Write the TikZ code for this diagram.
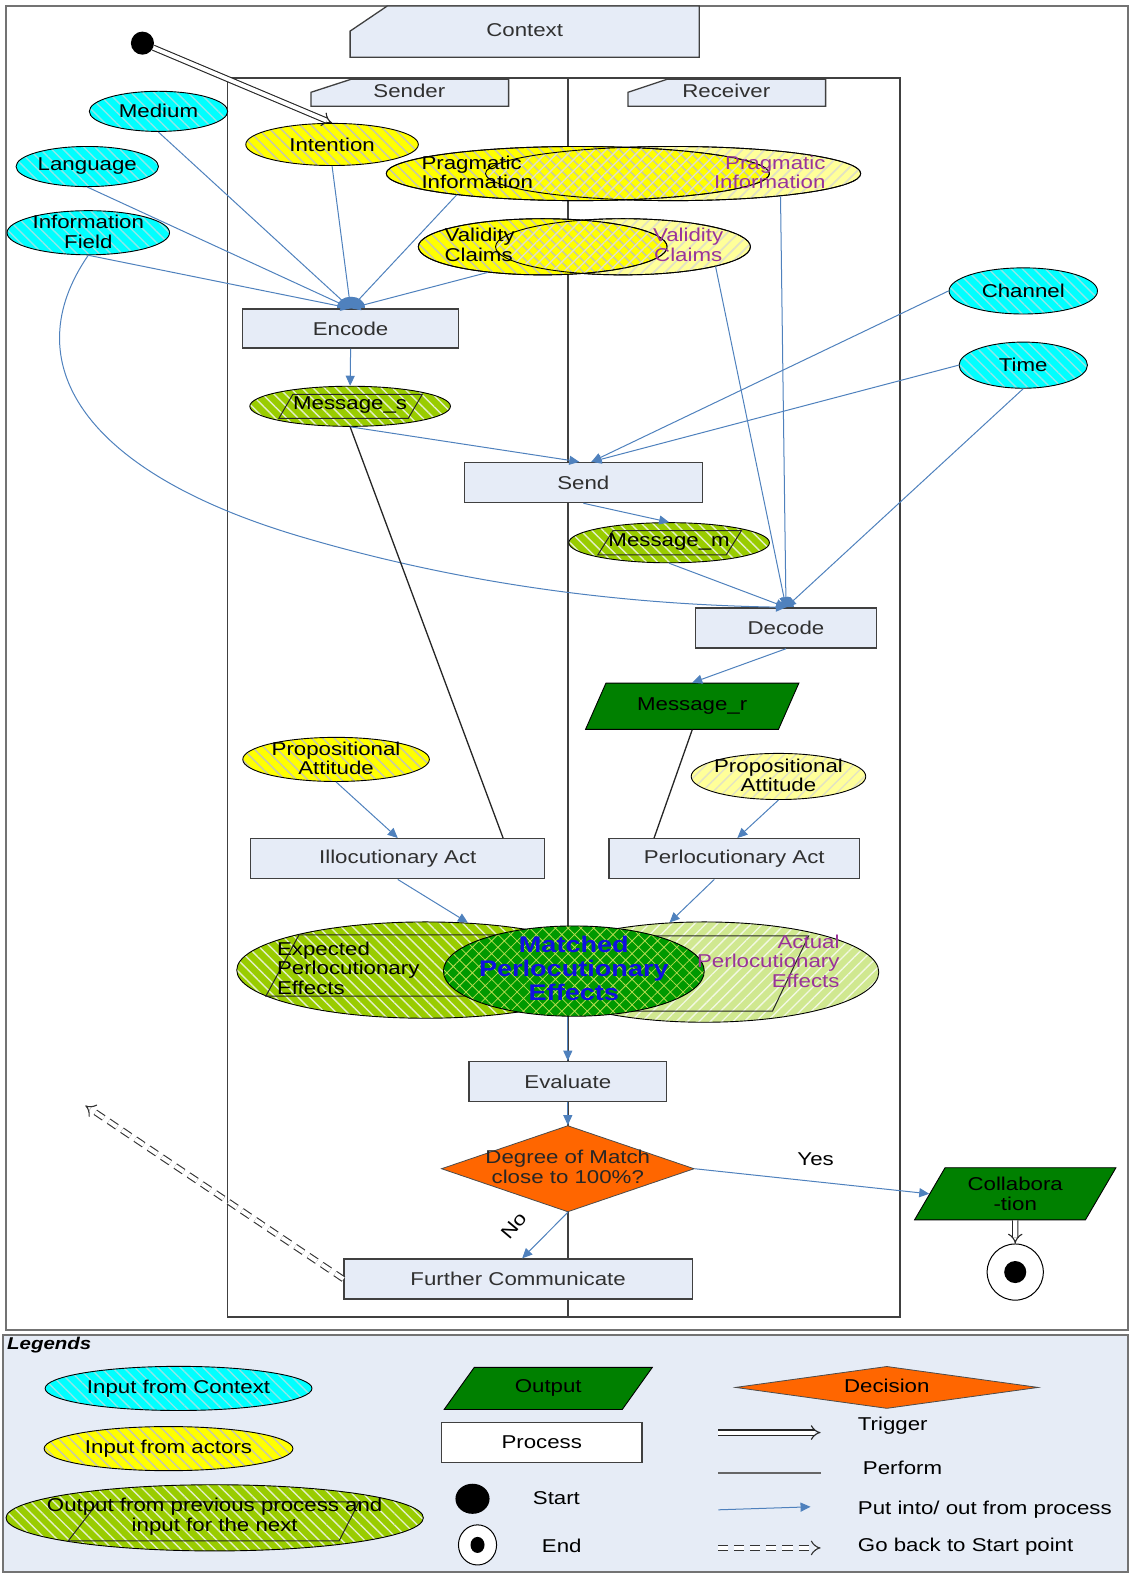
\documentclass[tikz,border=0pt]{standalone}
\usepackage{fontspec}
\setmainfont{Liberation Sans}[FakeStretch=1.2]
\usetikzlibrary{shapes.geometric,patterns.meta,arrows.meta,calc}
\definecolor{procfill}{HTML}{E6ECF7}
\definecolor{legbg}{HTML}{E6ECF6}
\definecolor{boxline}{HTML}{404040}
\definecolor{txtgray}{HTML}{303030}
\definecolor{cyanA}{HTML}{00FFFF}
\definecolor{cyanH}{HTML}{8CE8E8}
\definecolor{yelA}{HTML}{FFFF00}
\definecolor{yelH}{HTML}{C8C8A8}
\definecolor{yelL}{HTML}{FFFF99}
\definecolor{yelLH}{HTML}{E2E2C4}
\definecolor{grnA}{HTML}{99CC00}
\definecolor{grnH}{HTML}{E4F0C8}
\definecolor{grnL}{HTML}{D0E890}
\definecolor{grnLH}{HTML}{F2F8E2}
\definecolor{mgreen}{HTML}{009900}
\definecolor{mgH}{HTML}{B8DC50}
\definecolor{dgreen}{HTML}{008000}
\definecolor{orangeD}{HTML}{FF6600}
\definecolor{arrowblue}{HTML}{4F81BD}
\definecolor{purp}{HTML}{993399}
\definecolor{mblue}{HTML}{1010E0}
\newcommand\dfont{\fontsize{18.5}{19.5}\selectfont}
\newcommand\bfontm{\fontsize{22.5}{24}\selectfont\bfseries}
\tikzset{
  sz/.style 2 args={minimum width=#1,minimum height=#2},
  base/.style={inner sep=0pt,font=\dfont,align=center},
  proc/.style={base,rectangle,draw=boxline,line width=1.3pt,fill=procfill,text=txtgray},
  hatchB/.style={pattern={Lines[angle=-45,distance=8pt,line width=1.4pt]}},
  hatchF/.style={pattern={Lines[angle=45,distance=8pt,line width=1.4pt]}},
  ell/.style={base,ellipse,draw=black,line width=0.9pt},
  ctx/.style={ell,preaction={fill=cyanA},hatchB,pattern color=cyanH},
  actS/.style={ell,preaction={fill=yelA},hatchB,pattern color=yelH},
  actR/.style={ell,preaction={fill=yelL},hatchF,pattern color=yelLH},
  io/.style={ell,preaction={fill=grnA},hatchB,pattern color=grnH},
  outp/.style={base,trapezium,trapezium stretches=true,draw=black,line width=0.9pt,fill=dgreen,text=black},
  decision/.style={diamond,draw=black!70,line width=0.8pt,fill=orangeD,inner sep=0pt},
  para/.style={draw=black!85,line width=1pt},
  flow/.style={draw=arrowblue,line width=1pt,-{Triangle[length=10pt,width=9pt]}},
  perform/.style={draw=black!85,line width=1.3pt},
  trig/.style={draw=black!85,line width=1.1pt,double=white,double distance=4pt,-{Implies[scale=1.3]}},
  goback/.style={draw=black!80,line width=1.1pt,double=white,double distance=4pt,dash pattern=on 10pt off 6pt,-{Implies[scale=1.3]}},
  frame/.style={draw=black!55,line width=2pt},
  lane/.style={draw=black!75,line width=1.5pt},
  tab/.style={draw=black!75,line width=1.3pt,fill=procfill}
}
\begin{document}
\begin{tikzpicture}[x=1pt,y=-1pt]
\useasboundingbox (0,0) rectangle (1125,1568);
% frames
\draw[frame] (6,6) rectangle (1124,1326);
\draw[frame,fill=legbg] (3,1331) rectangle (1124,1567);
\draw[lane] (227,78) rectangle (897,1313);
\draw[lane] (566,78) -- (566,1313);
% tabs
\draw[tab] (349,57) -- (349,31) -- (386,6) -- (697,6) -- (697,57) -- cycle;
\node[base,text=txtgray] (ctxlabel) at (523,30) {Context};
\draw[tab] (310,106) -- (310,92) -- (350,79) -- (507,79) -- (507,106) -- cycle;
\node[base,text=txtgray] (senderlabel) at (408,91) {Sender};
\draw[tab] (626,106) -- (626,92) -- (665,79) -- (823,79) -- (823,106) -- cycle;
\node[base,text=txtgray] (receiverlabel) at (724,91) {Receiver};
% context inputs
\node[ctx,sz={138}{40}] (medium) at (158,111) {Medium};
\node[ctx,sz={142}{40}] (language) at (87,166) {Language};
\node[ctx,sz={162}{44}] (infofield) at (88,232) {};
\node[base] (infofieldtext) at (88,231) {Information\\Field};
\node[ctx,sz={148}{46}] (channel) at (1020,290) {Channel};
\node[ctx,sz={128}{46}] (time) at (1020,364) {Time};
% start
\node[circle,fill=black,minimum size=23pt,inner sep=0pt] (startdot) at (142,43) {};
\node[actS,sz={172}{42}] (intention) at (331,144) {Intention};
% pragmatic information
\node[actR,sz={374}{54}] (pragR) at (671,173) {};
\node[actS,sz={382}{54}] (pragS) at (576,173) {};
\node[ell,draw=none,hatchF,pattern color=yelLH,sz={374}{54}] (pragRo) at (671,173) {};
\node[ell,sz={374}{54}] (pragRl) at (671,173) {};
\node[ell,sz={382}{54}] (pragSl) at (576,173) {};
\node[base,align=left,anchor=west] (pragStext) at (420,172) {Pragmatic\\Information};
\node[base,align=right,anchor=east,text=purp] (pragRtext) at (823,172) {Pragmatic\\Information};
% validity claims
\node[actR,sz={254}{56}] (validR) at (621,246) {};
\node[actS,sz={248}{56}] (validS) at (541,246) {};
\node[ell,draw=none,hatchF,pattern color=yelLH,sz={254}{56}] (validRo) at (621,246) {};
\node[ell,sz={254}{56}] (validRl) at (621,246) {};
\node[ell,sz={248}{56}] (validSl) at (541,246) {};
\node[base,align=left,anchor=west] (validStext) at (443,244) {Validity\\Claims};
\node[base,text=purp] (validRtext) at (686,244) {Validity\\Claims};
% processes
\node[proc,sz={215}{39}] (encode) at (349.5,327.5) {Encode};
\node[proc,sz={237}{40}] (send) at (581.5,481) {Send};
\node[proc,sz={181}{40}] (decode) at (783.5,626) {Decode};
\node[proc,sz={293}{40}] (illoc) at (396.5,856) {Illocutionary Act};
\node[proc,sz={250}{40}] (perloc) at (732,856) {Perlocutionary Act};
\node[proc,sz={197}{40}] (evaluate) at (566,1078) {Evaluate};
\node[proc,sz={347}{40}] (further) at (516.5,1275) {Further Communicate};
% messages
\node[io,sz={200}{40}] (msgs) at (349,405) {};
\draw[para] (278,417) -- (292,393) -- (421,393) -- (407,417) -- cycle;
\node[base] (msgstext) at (349,404) {Message\_s};
\node[io,sz={200}{40}] (msgm) at (667,541) {};
\draw[para] (596,553) -- (611,529) -- (739,529) -- (724,553) -- cycle;
\node[base] (msgmtext) at (667,540) {Message\_m};
\node[outp,sz={213}{46},trapezium left angle=52,trapezium right angle=128] (msgr) at (690,704) {Message\_r};
% propositional attitudes
\node[actS,sz={186}{44}] (propS) at (335,757) {};
\node[base] (propStext) at (335,756) {Propositional\\Attitude};
\node[actR,sz={174}{46}] (propR) at (776,774) {};
\node[base] (propRtext) at (776,773) {Propositional\\Attitude};
% effects
\node[ell,preaction={fill=grnL},hatchF,pattern color=grnLH,sz={348}{100}] (actE) at (702,969) {};
\node[io,sz={376}{96}] (expE) at (424,967) {};
\draw[para] (265,993) -- (298,932) -- (560,932) -- (527,993) -- cycle;
\draw[para] (600,1008) -- (638,933) -- (806,933) -- (770,1008) -- cycle;
\node[ell,preaction={fill=mgreen},pattern={Hatch[angle=45,distance=9pt,line width=0.8pt]},pattern color=mgH,sz={260}{90}] (matE) at (572,968) {};
\node[base,align=left,anchor=west] (exptext) at (276,965) {Expected\\Perlocutionary\\Effects};
\node[base,align=right,anchor=east,text=purp] (acttext) at (837,958) {Actual\\Perlocutionary\\Effects};
\node[base,font=\bfontm,text=mblue] (mattext) at (572,965) {Matched\\Perlocutionary\\Effects};
% decision
\node[decision,sz={252}{86}] (dec) at (566,1165) {};
\node[base,text=black!85] (dectext) at (566,1163) {Degree of Match\\close to 100\%?};
\node[outp,sz={201}{52},trapezium left angle=58,trapezium right angle=122] (collab) at (1012,1190) {Collabora\\-tion};
\node[circle,draw=black,line width=1pt,fill=white,minimum size=56pt,inner sep=0pt] (endnode) at (1012,1268) {};
\node[circle,fill=black,minimum size=22pt,inner sep=0pt] (enddot) at (endnode) {};
\node[base] (yes) at (813,1156) {Yes};
\node[base,rotate=50] (no) at (512,1222) {No};
\coordinate (icurve) at (300,535);
\coordinate (gobackpt) at (85,1102);
% connectors
\draw[trig] (startdot) -- (intention.north);
\draw[flow] (medium.south) -- (encode.north);
\draw[flow] (language.south) -- (encode.north);
\draw[flow] (infofield.south) -- (encode.north);
\draw[flow] (intention.south) -- (encode.north);
\draw[flow] (pragS.190) -- (encode.north);
\draw[flow] (validS.205) -- (encode.north);
\fill[arrowblue] ($(encode.north)+(-14,0)$) .. controls ($(encode.north)+(-14,-15)$) and ($(encode.north)+(14,-15)$) .. ($(encode.north)+(14,0)$) -- cycle;
\draw[flow] (infofield.south) .. controls (15,360) and (80,470) .. (icurve) .. controls (476,587) and (640,603) .. (decode.north);
\draw[flow] (pragR.-12) -- (decode.north);
\draw[flow] (validR.-12) -- (decode.north);
\draw[flow] (time.south) -- (decode.north);
\draw[flow] (msgm.south) -- (decode.north);
\fill[arrowblue] ($(decode.north)+(-8,0)$) .. controls ($(decode.north)+(-8,-9)$) and ($(decode.north)+(8,-9)$) .. ($(decode.north)+(8,0)$) -- cycle;
\draw[flow] (encode.south) -- (msgs.north);
\draw[flow] (msgs.south) -- ($(send.north)+(-4,0)$);
\draw[flow] (channel.west) -- ($(send.north)+(8,0)$);
\draw[flow] (time.west) -- ($(send.north)+(8,0)$);
\draw[flow] (send.south) -- (msgm.north);
\draw[flow] (decode.south) -- (msgr.north);
\draw[perform] (msgs.south) -- ($(illoc.north)+(105,0)$);
\draw[perform] (msgr.south) -- ($(perloc.north)+(-80,0)$);
\draw[flow] (propS.south) -- (illoc.north);
\draw[flow] (propR.south) -- ($(perloc.north)+(3,0)$);
\draw[flow] (illoc.south) -- (expE.48);
\draw[flow] ($(perloc.south)+(-20,0)$) -- (actE.125);
\draw[flow] (evaluate.north |- matE.south) -- (evaluate.north);
\draw[flow] (evaluate.south) -- (dec.north);
\draw[flow] (dec.east) -- (collab.west);
\draw[flow] (dec.south) -- ($(further.north)+(4,0)$);
\draw[trig] (collab.south) -- (endnode.north);
\draw[goback] (further.west) -- (gobackpt);
% legend
\node[base,anchor=west] (legtitle) at (7,1341) {\fontsize{17}{19}\selectfont\bfseries\itshape Legends};
\node[ctx,sz={266}{44}] (lctx) at (178,1384) {Input from Context};
\node[actS,sz={248}{44}] (lact) at (168,1444) {Input from actors};
\node[io,sz={416}{66}] (lio) at (214,1513) {};
\draw[para] (68,1536) -- (98,1497) -- (358,1497) -- (338,1536) -- cycle;
\node[base] (liotext) at (214,1512) {Output from previous process and\\input for the next};
\node[outp,sz={209}{42},trapezium left angle=51,trapezium right angle=129] (lout) at (546.5,1384) {Output};
\node[proc,fill=white,text=black,sz={200}{40}] (lproc) at (540,1438) {Process};
\node[ellipse,fill=black,sz={34}{30},inner sep=0pt] (lstart) at (471,1494) {};
\node[ellipse,draw=black,line width=1pt,fill=white,sz={38}{40},inner sep=0pt] (lend) at (476,1540) {};
\node[ellipse,fill=black,sz={14}{16},inner sep=0pt] (lenddot) at (lend) {};
\node[base,anchor=west] (lstarttext) at (531,1493) {Start};
\node[base,anchor=west] (lendtext) at (540,1541) {End};
\node[decision,sz={302}{42}] (ldec) at (884,1383) {};
\node[base] (ldectext) at (884,1381) {Decision};
\coordinate (lt1) at (716,1428); \coordinate (lt2) at (818,1428);
\coordinate (lp1) at (716,1468); \coordinate (lp2) at (818,1468);
\coordinate (lf1) at (716,1505); \coordinate (lf2) at (808,1502);
\coordinate (lg1) at (716,1543); \coordinate (lg2) at (818,1543);
\draw[trig] (lt1) -- (lt2);
\draw[perform,draw=black!60,line width=1.8pt] (lp1) -- (lp2);
\draw[flow] (lf1) -- (lf2);
\draw[goback] (lg1) -- (lg2);
\node[base,anchor=west] (ltrig) at (855,1421) {Trigger};
\node[base,anchor=west] (lperf) at (860,1463) {Perform};
\node[base,anchor=west] (lput) at (855,1505) {Put into/ out from process};
\node[base,anchor=west] (lgo) at (855,1542) {Go back to Start point};
\end{tikzpicture}
\end{document}
